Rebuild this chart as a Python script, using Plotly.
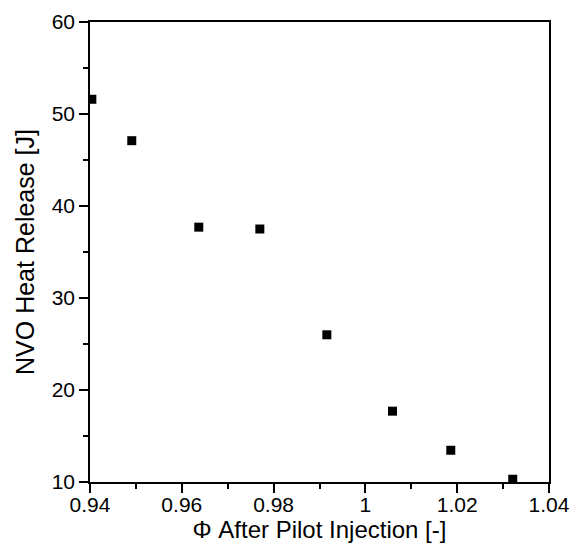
import plotly.graph_objects as go

phi = [0.9404, 0.9491, 0.9637, 0.9770, 0.9916, 1.0059, 1.0186, 1.0321]
nvo_hr = [51.6, 47.1, 37.7, 37.5, 26.0, 17.7, 13.45, 10.3]

x_ticks = [0.94, 0.96, 0.98, 1.0, 1.02, 1.04]
x_ticklabels = ["0.94", "0.96", "0.98", "1", "1.02", "1.04"]
y_ticks = [10, 20, 30, 40, 50, 60]

fig = go.Figure()
fig.add_trace(go.Scatter(
    x=phi, y=nvo_hr, mode="markers",
    marker=dict(symbol="square", size=9, color="black", line=dict(width=0)),
    showlegend=False,
))

family = "Liberation Sans, Arial, sans-serif"
tick_font = dict(family=family, size=21, color="black")
xtitle_font = dict(family=family, size=24, color="black")
ytitle_font = dict(family=family, size=25, color="black")
axis_common = dict(
    showline=True, linecolor="black", linewidth=1.5, mirror=True,
    ticks="outside", ticklen=9, tickwidth=1.5, tickcolor="black",
    showgrid=False, zeroline=False, tickfont=tick_font, automargin=False,
)
fig.update_xaxes(
    range=[0.94, 1.04], tickvals=x_ticks, ticktext=x_ticklabels,
    ticklabelstandoff=-6,
    title=dict(text="Φ After Pilot Injection [-]", font=xtitle_font, standoff=2),
    minor=dict(ticks="outside", ticklen=5, tickwidth=1.5, tickcolor="black", dtick=0.01),
    **axis_common,
)
fig.update_yaxes(
    range=[10, 60], tickvals=y_ticks,
    title=dict(text="NVO Heat Release [J]", font=ytitle_font, standoff=10),
    minor=dict(ticks="outside", ticklen=5, tickwidth=1.5, tickcolor="black", dtick=5),
    **axis_common,
)
fig.update_layout(
    width=585, height=544,
    margin=dict(l=90, r=36, t=22, b=62),
    plot_bgcolor="white", paper_bgcolor="white",
    font=tick_font,
)
fig.write_html("out.html", config={"displayModeBar": False},
               post_script="document.body.style.margin='0';")
